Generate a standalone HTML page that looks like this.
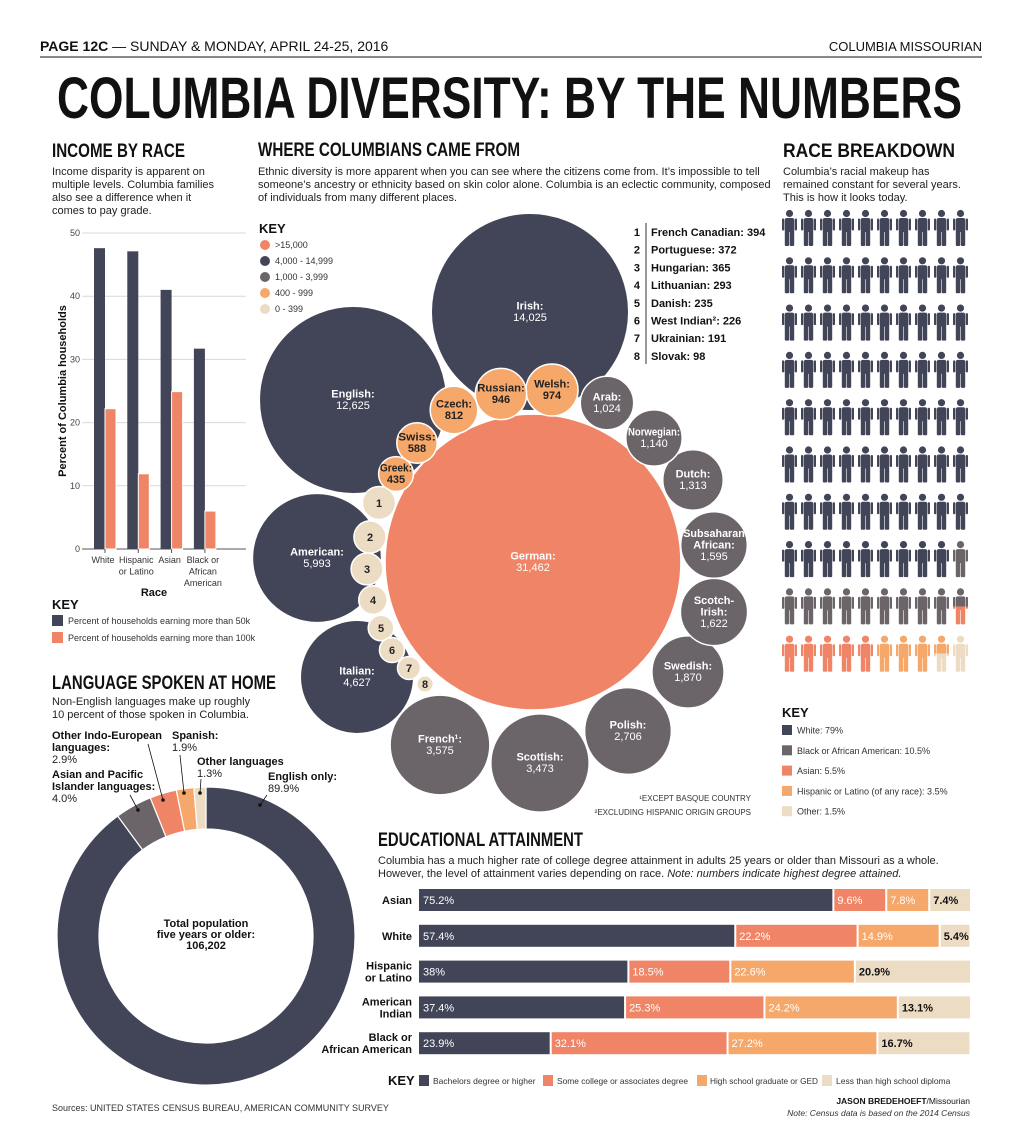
<!DOCTYPE html>
<html><head><meta charset="utf-8"><style>
html,body{margin:0;padding:0;background:#fff;}
svg{display:block;font-family:"Liberation Sans",sans-serif;}
.h{font-family:"Liberation Sans Narrow","Liberation Sans",sans-serif;font-weight:bold;fill:#111;}
.b{font-size:11px;fill:#222;}
.bb{font-size:11px;fill:#111;font-weight:bold;}
.s{font-size:9px;fill:#333;}
.k{font-size:8.5px;fill:#333;}
</style></head><body>
<svg id="root" width="1024" height="1143" viewBox="0 0 1024 1143">
<defs id="defs"></defs>
<g>
<text x="40" y="51" font-size="14" fill="#111"><tspan font-weight="bold">PAGE 12C</tspan> — SUNDAY &amp; MONDAY, APRIL 24-25, 2016</text>
<text x="982" y="51" font-size="13" fill="#111" text-anchor="end">COLUMBIA MISSOURIAN</text>
<line x1="40" y1="57" x2="982" y2="57" stroke="#111" stroke-width="1"/>
</g>
<text class="h" x="57" y="118" font-size="58" textLength="905" lengthAdjust="spacingAndGlyphs">COLUMBIA DIVERSITY: BY THE NUMBERS</text>

<text class="h" x="52" y="157" font-size="19" textLength="133" lengthAdjust="spacingAndGlyphs">INCOME BY RACE</text>
<g>
<text class="b" x="52" y="175">Income disparity is apparent on</text>
<text class="b" x="52" y="188">multiple levels. Columbia families</text>
<text class="b" x="52" y="201">also see a difference when it</text>
<text class="b" x="52" y="214">comes to pay grade.</text>
</g>
<g id="income"></g>
<text x="52" y="609" font-size="13" font-weight="bold" fill="#111">KEY</text>
<rect x="52" y="615" width="11" height="11" fill="#424558"/>
<text class="s" x="68" y="624">Percent of households earning more than 50k</text>
<rect x="52" y="632" width="11" height="11" fill="#f08466"/>
<text class="s" x="68" y="641">Percent of households earning more than 100k</text>

<text class="h" x="258" y="156" font-size="19" textLength="262" lengthAdjust="spacingAndGlyphs">WHERE COLUMBIANS CAME FROM</text>
<g>
<text class="b" x="258" y="175">Ethnic diversity is more apparent when you can see where the citizens come from. It’s impossible to tell</text>
<text class="b" x="258" y="188">someone’s ancestry or ethnicity based on skin color alone. Columbia is an eclectic community, composed</text>
<text class="b" x="258" y="201">of individuals from many different places.</text>
</g>
<g id="bubbles"></g>
<g>
<text x="259" y="233" font-size="13" font-weight="bold" fill="#111">KEY</text>
<circle cx="265" cy="245" r="5" fill="#f08466"/><text class="s" x="275" y="248">&gt;15,000</text>
<circle cx="265" cy="261" r="5" fill="#424558"/><text class="s" x="275" y="264">4,000 - 14,999</text>
<circle cx="265" cy="277" r="5" fill="#6b6569"/><text class="s" x="275" y="280">1,000 - 3,999</text>
<circle cx="265" cy="293" r="5" fill="#f6a76a"/><text class="s" x="275" y="296">400 - 999</text>
<circle cx="265" cy="309" r="5" fill="#ecdcc4"/><text class="s" x="275" y="312">0 - 399</text>
</g>
<g id="numlist"></g>
<text x="751" y="801" font-size="8" fill="#333" text-anchor="end">¹EXCEPT BASQUE COUNTRY</text>
<text x="751" y="815" font-size="8" fill="#333" text-anchor="end">²EXCLUDING HISPANIC ORIGIN GROUPS</text>

<text class="h" x="783" y="157" font-size="19" textLength="172" lengthAdjust="spacingAndGlyphs">RACE BREAKDOWN</text>
<g>
<text class="b" x="783" y="175">Columbia’s racial makeup has</text>
<text class="b" x="783" y="188">remained constant for several years.</text>
<text class="b" x="783" y="201">This is how it looks today.</text>
</g>
<g id="people"></g>
<text x="782" y="717" font-size="13" font-weight="bold" fill="#111">KEY</text>
<g id="racekey"></g>

<text class="h" x="52" y="689" font-size="19" textLength="224" lengthAdjust="spacingAndGlyphs">LANGUAGE SPOKEN AT HOME</text>
<g>
<text class="b" x="52" y="705">Non-English languages make up roughly</text>
<text class="b" x="52" y="718">10 percent of those spoken in Columbia.</text>
</g>
<g id="donut"></g>
<g>
<text class="bb" x="52" y="739">Other Indo-European</text><text class="bb" x="52" y="751">languages:</text><text class="b" x="52" y="763">2.9%</text>
<text class="bb" x="172" y="739">Spanish:</text><text class="b" x="172" y="751">1.9%</text>
<text class="bb" x="197" y="765">Other languages</text><text class="b" x="197" y="777">1.3%</text>
<text class="bb" x="52" y="778">Asian and Pacific</text><text class="bb" x="52" y="790">Islander languages:</text><text class="b" x="52" y="802">4.0%</text>
<text class="bb" x="268" y="780">English only:</text><text class="b" x="268" y="792">89.9%</text>
<path d="M148 744 L163 800 M130 795 L138 810 M180 755 L184 793 M201 779 L200 793 M267 795 L260 805" stroke="#111" fill="none" stroke-width="0.8"/>
<circle cx="163" cy="800" r="1.8" fill="#111"/><circle cx="138" cy="810" r="1.8" fill="#111"/><circle cx="184" cy="793" r="1.8" fill="#111"/><circle cx="200" cy="793" r="1.8" fill="#111"/><circle cx="260" cy="805" r="1.8" fill="#111"/>
</g>
<g>
<text class="bb" x="206" y="927" text-anchor="middle">Total population</text>
<text class="bb" x="206" y="938" text-anchor="middle">five years or older:</text>
<text class="bb" x="206" y="949" text-anchor="middle">106,202</text>
</g>
<text x="52" y="1111" font-size="9" fill="#333">Sources: UNITED STATES CENSUS BUREAU, AMERICAN COMMUNITY SURVEY</text>

<text class="h" x="378" y="846" font-size="19" textLength="205" lengthAdjust="spacingAndGlyphs">EDUCATIONAL ATTAINMENT</text>
<g>
<text class="b" x="378" y="864">Columbia has a much higher rate of college degree attainment in adults 25 years or older than Missouri as a whole.</text>
<text class="b" x="378" y="877">However, the level of attainment varies depending on race. <tspan font-style="italic">Note: numbers indicate highest degree attained.</tspan></text>
</g>
<g id="edu"></g>
<g>
<text x="388" y="1085" font-size="13" font-weight="bold" fill="#111">KEY</text>
<rect x="419" y="1075" width="10" height="11" fill="#424558"/><text class="k" x="433" y="1084">Bachelors degree or higher</text>
<rect x="543" y="1075" width="10" height="11" fill="#f08466"/><text class="k" x="557" y="1084" textLength="131" lengthAdjust="spacingAndGlyphs">Some college or associates degree</text>
<rect x="697" y="1075" width="10" height="11" fill="#f6a76a"/><text class="k" x="710" y="1084" textLength="108" lengthAdjust="spacingAndGlyphs">High school graduate or GED</text>
<rect x="822" y="1075" width="10" height="11" fill="#ecdcc4"/><text class="k" x="836" y="1084">Less than high school diploma</text>
</g>
<text x="970" y="1104" font-size="8.5" fill="#111" text-anchor="end"><tspan font-weight="bold">JASON BREDEHOEFT</tspan>/Missourian</text>
<text x="970" y="1116" font-size="8.5" fill="#333" text-anchor="end" font-style="italic">Note: Census data is based on the 2014 Census</text>
</svg>
<script>
// ===== income chart data =====
const incomeCats = ["White", "Hispanic|or Latino", "Asian", "Black or|African|American"];
const income50k = [47.6, 47.1, 41.0, 31.7];
const income100k = [22.2, 11.9, 24.9, 6.0];
const incomeTicks = [0, 10, 20, 30, 40, 50];
// ===== bubble data =====
const bubbleNames = ["German","Irish","English","American","Italian","French¹","Scottish","Polish","Swedish","Scotch-|Irish","Subsaharan|African","Dutch","Norwegian","Arab","Welsh","Russian","Czech","Swiss","Greek","1","2","3","4","5","6","7","8"];
const bubbleValues = [31462,14025,12625,5993,4627,3575,3473,2706,1870,1622,1595,1313,1140,1024,974,946,812,588,435,394,372,365,293,235,226,191,98];
const smallNames = ["French Canadian","Portuguese","Hungarian","Lithuanian","Danish","West Indian²","Ukrainian","Slovak"];
const smallValues = [394,372,365,293,235,226,191,98];
// ===== race data =====
const raceNames = ["White: 79%","Black or African American: 10.5%","Asian: 5.5%","Hispanic or Latino (of any race): 3.5%","Other: 1.5%"];
const raceValues = [79, 10.5, 5.5, 3.5, 1.5];
// ===== language data (clockwise from top) =====
const langNames = ["English only","Asian and Pacific Islander","Other Indo-European","Spanish","Other languages"];
const langValues = [89.9, 4.0, 2.9, 1.9, 1.3];
// ===== education data =====
const eduCats = ["Asian","White","Hispanic|or Latino","American|Indian","Black or|African American"];
const eduBach = [75.2, 57.4, 38, 37.4, 23.9];
const eduSome = [9.6, 22.2, 18.5, 25.3, 32.1];
const eduHS = [7.8, 14.9, 22.6, 24.2, 27.2];
const eduLess = [7.4, 5.4, 20.9, 13.1, 16.7];

const NS = "http://www.w3.org/2000/svg";
const C = {navy:"#424558", gray:"#6b6569", red:"#f08466", orange:"#f6a76a", beige:"#ecdcc4"};
function mk(tag, attrs, parent){const e=document.createElementNS(NS,tag);for(const k in attrs)e.setAttribute(k,attrs[k]);if(parent)parent.appendChild(e);return e;}
function fmt(v){return v.toLocaleString("en-US");}

(function(){
  const g=document.getElementById("income");
  const y0=549, y1=233, x0=64, x1=246;
  const yS=v=>y0-(v/50)*(y0-y1);
  const xS=i=>94+i*33.3;
  incomeTicks.forEach(t=>{
    const l=mk("line",{x1:x0+18,x2:x1,y1:yS(t),y2:yS(t),stroke:t===0?"#555":"#d8d8d8","stroke-width":1},g);
    
    
    const tx=mk("text",{x:80,y:yS(t)+3,"font-size":9,fill:"#444","text-anchor":"end"},g);tx.textContent=t;
    
    
  });
  incomeCats.forEach((c,i)=>{
    const b=mk("rect",{x:xS(i),y:yS(income50k[i]),width:11,height:yS(0)-yS(income50k[i]),fill:C.navy},g);
    
    
    const r=mk("rect",{x:xS(i)+11,y:yS(income100k[i]),width:11,height:yS(0)-yS(income100k[i]),fill:C.red,stroke:"#fff","stroke-width":1},g);
    
    
    mk("line",{x1:xS(i)+11,x2:xS(i)+11,y1:y0,y2:y0+4,stroke:"#555"},g);
    c.split("|").forEach((ln,k)=>{
      const t=mk("text",{x:xS(i)+9,y:563+k*11.5,"font-size":9,fill:"#333","text-anchor":"middle"},g);t.textContent=ln;
      
      
    });
  });
  const yl=mk("text",{x:0,y:0,"font-size":11,"font-weight":"bold",fill:"#111","text-anchor":"middle",transform:"translate(66,391) rotate(-90)"},g);
  yl.textContent="Percent of Columbia households";
  
  
  const xl=mk("text",{x:154,y:596,"font-size":11,"font-weight":"bold",fill:"#111","text-anchor":"middle"},g);
  xl.textContent="Race";
  
  
})();

(function(){
  const g=document.getElementById("bubbles");
  const layout=[[533,562],[530,312],[353,400],[317,558],[357,677],[440,745],[540,763],[628,731],[688,672],[714,612],[714,545],[693,480],[654,438],[607,403],[552,390],[501,394],[454,410],[417,443],[396,474],[379,503],[370,537],[367,569],[373,600],[381,628],[392,650],[409,668],[425,684]];
  const rS=v=>0.834*Math.sqrt(v);
  const col=v=>v>=15000?C.red:v>=4000?C.navy:v>=1000?C.gray:v>=400?C.orange:C.beige;
  bubbleNames.forEach((n,i)=>{
    const v=bubbleValues[i], [cx,cy]=layout[i], r=rS(v);
    const c=mk("circle",{cx,cy,r,fill:col(v),stroke:"#fff","stroke-width":1.5},g);
    
    
    const dark=v<1000;
    const tc=dark?"#222":"#fff";
    if(/^\d$/.test(n)){
      const t=mk("text",{x:cx,y:cy+4,"font-size":11,"font-weight":"bold",fill:"#222","text-anchor":"middle"},g);t.textContent=n;
      
      
      return;
    }
    const lines=n.split("|");lines[lines.length-1]+=":";
    const total=lines.length+1, lh=11.5;
    const top=cy-(total*lh)/2+9;
    const maxW=1.85*r;
    lines.forEach((ln,k)=>{
      const attrs={x:cx,y:top+k*lh,"font-size":11,"font-weight":"bold",fill:tc,"text-anchor":"middle"};
      if(ln.length*6.6>maxW){attrs.textLength=maxW;attrs.lengthAdjust="spacingAndGlyphs";}
      const t=mk("text",attrs,g);t.textContent=ln;
      
      
    });
    const t=mk("text",{x:cx,y:top+lines.length*lh,"font-size":11,fill:tc,"text-anchor":"middle","font-weight":dark?"bold":"normal"},g);t.textContent=fmt(v);
    
    
  });
  const L=document.getElementById("numlist");
  mk("line",{x1:646,x2:646,y1:223,y2:364,stroke:"#333","stroke-width":1},L);
  smallNames.forEach((n,i)=>{
    const y=236+i*17.7;
    const a=mk("text",{x:640,y,"font-size":11,"font-weight":"bold",fill:"#111","text-anchor":"end"},L);a.textContent=i+1;
    
    
    const b=mk("text",{x:651,y,"font-size":11,"font-weight":"bold",fill:"#111"},L);b.textContent=n+": "+smallValues[i];
    
    
  });
})();

(function(){
  const g=document.getElementById("people"), defs=document.getElementById("defs");
  const cols=[C.navy,C.gray,C.red,C.orange,C.beige];
  const cum=[];let s=0;raceValues.forEach(v=>{cum.push([s,s+v]);s+=v;});
  for(let i=0;i<100;i++){
    const row=Math.floor(i/10), col=i%10;
    const gid="pg"+i;
    const grad=mk("linearGradient",{id:gid,gradientUnits:"userSpaceOnUse",x1:0,y1:0,x2:0,y2:36},defs);
    cum.forEach(([a,b],k)=>{
      const lo=Math.max(a,i), hi=Math.min(b,i+1);
      if(hi>lo){
        mk("stop",{offset:(lo-i),"stop-color":cols[k]},grad);
        mk("stop",{offset:(hi-i),"stop-color":cols[k]},grad);
      }
    });
    const p=mk("g",{transform:`translate(${782+col*19},${210+row*47.3})`,fill:`url(#${gid})`},g);
    
    
    mk("circle",{cx:7.5,cy:3.5,r:3.6},p);
    mk("rect",{x:2.8,y:8,width:9.4,height:14,rx:2},p);
    mk("rect",{x:0,y:8.5,width:2.3,height:12,rx:1},p);
    mk("rect",{x:12.7,y:8.5,width:2.3,height:12,rx:1},p);
    mk("rect",{x:2.8,y:20,width:4.4,height:16,rx:1},p);
    mk("rect",{x:7.8,y:20,width:4.4,height:16,rx:1},p);
  }
  const K=document.getElementById("racekey");
  raceNames.forEach((n,k)=>{
    const y=725+k*20.3;
    const r=mk("rect",{x:782,y,width:10,height:10,fill:cols[k]},K);
    
    
    const t=mk("text",{x:797,y:y+8.5,"font-size":9,fill:"#333"},K);t.textContent=n;
    
    
  });
})();

(function(){
  const g=document.getElementById("donut");
  const cx=206, cy=936, R=149, r=107;
  const cols=[C.navy,C.gray,C.red,C.orange,C.beige];
  const tot=langValues.reduce((a,b)=>a+b,0);
  let a0=0;
  langValues.forEach((v,i)=>{
    const a1=a0+v/tot*Math.PI*2;
    const p=(a,rr)=>[cx+rr*Math.sin(a),cy-rr*Math.cos(a)];
    const [x1,y1]=p(a0,R),[x2,y2]=p(a1,R),[x3,y3]=p(a1,r),[x4,y4]=p(a0,r);
    const lg=(a1-a0)>Math.PI?1:0;
    const path=mk("path",{d:`M${x1},${y1} A${R},${R} 0 ${lg} 1 ${x2},${y2} L${x3},${y3} A${r},${r} 0 ${lg} 0 ${x4},${y4}Z`,fill:cols[i],stroke:"#fff","stroke-width":1.2},g);
    
    
    a0=a1;
  });
})();

(function(){
  const g=document.getElementById("edu");
  const x0=419, W=551;
  const xS=v=>x0+v/100*W;
  const series=[eduBach,eduSome,eduHS,eduLess];
  const cols=[C.navy,C.red,C.orange,C.beige];
  eduCats.forEach((c,i)=>{
    const y=889+i*35.8, h=22;
    let acc=0;
    series.forEach((s,k)=>{
      const v=s[i];
      const x=xS(acc), w=xS(acc+v)-x;
      const b=mk("rect",{x:x+(k?1:0),y,width:Math.max(0,w-(k?1:0)-(k<3?1:0)),height:h,fill:cols[k]},g);
      
      
      const t=mk("text",{x:x+4,y:y+15,"font-size":11,fill:k===3?"#111":"#fff","font-weight":k===3?"bold":"normal"},g);
      t.textContent=v+"%";
      
      
      acc+=v;
    });
    const parts=c.split("|");
    parts.forEach((ln,k)=>{
      const t=mk("text",{x:412,y:y+15-(parts.length-1)*6+k*12,"font-size":11,"font-weight":"bold",fill:"#111","text-anchor":"end"},g);
      t.textContent=ln;
      
      
    });
  });
})();
</script>
</body></html>
